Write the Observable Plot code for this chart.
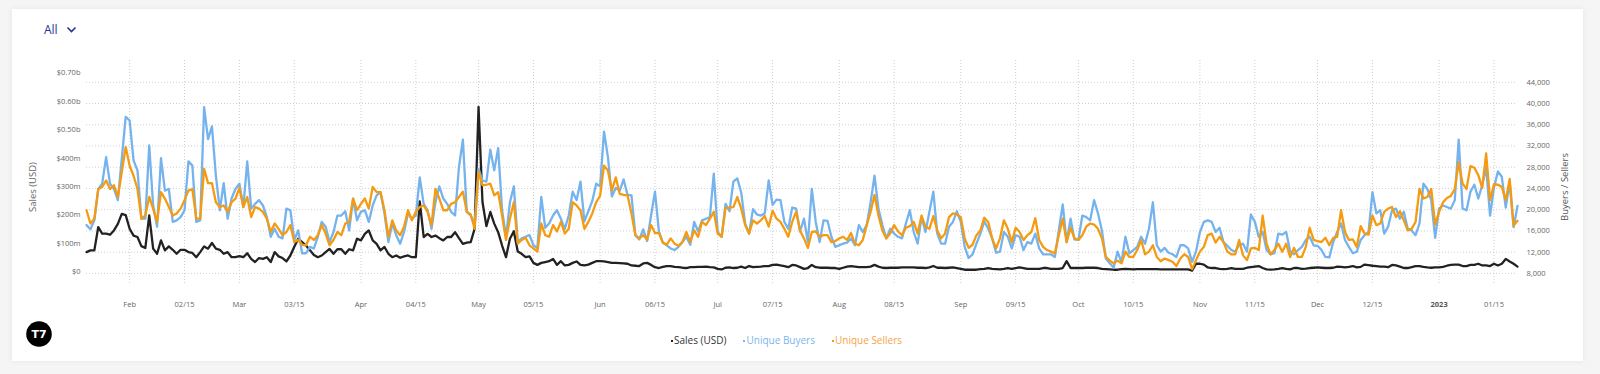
<!DOCTYPE html>
<html>
<head>
<meta charset="utf-8">
<script src="https://cdn.jsdelivr.net/npm/d3@7"></script>
<script src="https://cdn.jsdelivr.net/npm/@observablehq/plot@0.6"></script>
<style>
  html, body { margin:0; padding:0; width:1600px; height:374px; overflow:hidden; background:#f5f5f5; font-family:"Open Sans", sans-serif; }
  #card { position:absolute; left:12px; top:9px; width:1571px; height:352px; background:#fff; box-shadow:0 0 6px rgba(0,0,0,0.07); }
  #all { position:absolute; left:44px; top:22px; font-size:12px; color:#23358f; line-height:16px; }
  #all svg { position:absolute; left:22px; top:4px; }
  #chart { position:absolute; left:0; top:0; width:1600px; height:320px; }
  #chart svg { position:absolute; left:0; top:0; }
  .ytitle { position:absolute; transform:translate(-50%,-50%) rotate(-90deg); white-space:nowrap; font-size:9.5px; }
  #legend { position:absolute; left:671px; top:332px; font-size:10px; white-space:nowrap; line-height:16px; }
  #legend span.item { margin-right:17px; }
  #legend i { display:inline-block; width:2px; height:2px; vertical-align:middle; margin-right:1px; }
  #logo { position:absolute; left:25px; top:320px; }
</style>
</head>
<body>
<div id="card"></div>
<div id="all">All<svg width="12" height="8" viewBox="0 0 12 8"><polyline points="1.5,1.5 5.5,5.5 9.5,1.5" fill="none" stroke="#23358f" stroke-width="1.6"/></svg></div>
<div id="chart"></div>
<div class="ytitle" style="left:32px;top:187px;color:#666;">Sales (USD)</div>
<div class="ytitle" style="left:1564px;top:187px;color:#555;">Buyers / Sellers</div>
<div id="legend">
  <span class="item" style="color:#333"><i style="background:#222"></i>Sales (USD)</span><span class="item" style="color:#7cb5ec"><i style="background:#74b3ed"></i>Unique Buyers</span><span style="color:#f6a34a"><i style="background:#f49b12"></i>Unique Sellers</span>
</div>
<svg id="logo" width="28" height="28" viewBox="0 0 28 28"><circle cx="14" cy="14" r="12.8" fill="#000"/><text x="14" y="18" text-anchor="middle" font-family="DejaVu Sans, sans-serif" font-weight="bold" font-size="11" fill="#fff">T7</text></svg>

<script>
// ---- data (daily, starting 2022-01-21) ----
const startDay = "2022-01-21";

const uniqueBuyers = [
17100,16300,18000,23900,24900,29900,24900,23900,21800,29600,
37500,36800,29300,27400,18300,18300,32100,20800,16800,29700,
23600,23900,17700,18000,18600,19900,29100,28300,17700,18000,
39300,33300,35700,26400,19900,25000,18300,22100,23900,24900,
20500,29100,20200,21100,21800,20800,18600,14900,16400,14900,
14600,20200,19900,14300,16100,11800,11800,13000,12700,14900,
17700,16800,13900,15800,18900,18900,19700,16100,22100,18000,
19600,19900,17700,20800,22700,23300,19300,13900,17400,15200,
13600,15800,19300,18300,18900,26100,21100,19900,16400,21400,
24400,22100,21100,19600,18900,28000,33200,19600,18900,17100,
27700,25500,25300,31300,27400,31600,19900,14900,21400,24400,
13900,14600,14900,15200,13300,12800,22400,16600,17400,18900,
19900,18300,16400,18900,23400,21800,25300,17800,19700,21600,
24900,24400,34700,29900,22500,24100,23600,25700,22800,22700,
15200,14400,16300,14100,18900,23400,15900,13800,13300,12700,
12400,13000,13900,14900,13400,17700,15900,18000,18300,18600,
26800,15800,14900,21100,19700,25300,25900,23200,17400,15500,
20100,19100,18900,19300,25500,20900,21900,21800,17700,16400,
20400,20200,15900,18300,13900,23900,17700,13900,18000,17900,
14900,13000,13300,13600,13800,14600,13300,17100,15800,17100,
21400,26400,20200,17100,14600,16400,15500,14900,14600,17400,
19900,15800,13600,18600,15800,19600,23400,15500,13600,13600,
16800,17700,19700,17700,13000,10900,11600,13600,15500,17800,
16400,14600,11900,12100,15800,14900,12700,15200,14900,12400,
13900,13600,15500,12700,11600,11600,11600,11100,16100,21000,
13900,18300,14400,14300,18900,18600,18000,21800,19300,16100,
10800,9900,9100,12100,10100,14900,11800,12400,13000,14900,
13600,16400,21400,13300,12100,12800,11900,11600,11100,13300,
13300,12700,10200,12100,15800,17700,18000,17700,15800,16600,
13900,13200,12400,12100,13300,13600,12100,19100,17700,14900,
15800,12400,11600,11800,15500,15300,15800,12200,11600,12400,
13000,14300,14900,13300,13200,12400,11100,11000,13900,15800,
17400,14300,13000,11800,12100,14300,15200,15800,23300,19300,
19900,15500,16800,19900,20200,18300,19600,16400,16100,15200,
17400,24900,23900,21800,14700,20200,20800,20500,20200,21800,
33200,20200,19900,23400,24700,22100,24600,28000,18900,24200,
27200,26200,20400,25200,16700,20700
];

const uniqueSellers = [
19900,17400,18300,23900,24300,25500,23900,24600,22400,27100,
31800,28300,26400,23900,18300,18900,22400,20200,17700,23300,
22100,20500,18900,19300,20200,21800,23600,23900,18300,18300,
27700,25000,25000,21400,20500,20800,19600,21400,22100,24100,
20500,22400,18600,20500,20200,19600,18300,15800,17400,16400,
15200,15800,17100,13900,14300,13400,13300,14900,14300,15200,
17100,15500,13300,14300,15800,15200,17400,17700,22100,19900,
21100,22100,20200,24300,23300,23300,19900,14900,18000,16100,
15200,16800,19900,18000,19600,20500,20800,19600,17100,23900,
22100,19900,19900,21100,21400,22400,23400,19600,19100,16400,
27100,24600,24700,24900,22700,23300,18900,14300,18300,21400,
13600,14300,14700,13300,12700,12100,17400,15200,14900,17100,
15900,17700,15500,16400,21400,20800,19900,16400,17700,19300,
21400,22600,28300,27400,23600,26100,23000,22800,22700,19300,
15200,14600,15200,14400,17100,15600,15600,13800,13400,14600,
13600,13200,13900,15800,13900,16100,14900,17700,17100,18300,
19600,15500,14900,20300,20400,20500,22400,20200,17100,15500,
18000,17400,18000,18800,16800,19800,18300,17700,16400,14900,
17700,19600,16100,14600,12800,15800,15900,14900,15200,15200,
13900,14100,14600,14900,14300,15600,13600,13300,14300,17100,
19600,22800,18900,16100,14600,15500,17100,15900,15200,16600,
16900,17700,15500,18900,16800,16400,18800,16100,14600,15500,
18600,19300,19100,18600,14600,12800,13400,15200,16100,18500,
17700,14600,12700,14600,18000,16400,13900,16600,15800,14300,
15200,15800,18400,14300,13000,12400,12100,11800,15200,18300,
13900,16600,14600,14300,15200,16800,17400,17200,16400,14600,
11100,10400,9900,10400,9900,12100,11100,11100,12400,14300,
11600,12100,13300,11100,10300,10800,10500,10200,9400,10800,
11600,11100,8800,10500,12100,13000,15200,15500,13800,14900,
13900,12100,11600,11600,14300,11400,10500,12700,12800,12400,
18900,13600,11600,12400,13600,12100,13600,11100,12800,11100,
11100,13000,16600,14300,14100,13900,14700,13300,14700,14900,
19900,15800,14300,14400,13000,16900,15500,15300,18900,17100,
17400,19600,20200,20500,18600,19700,18000,16100,16400,17700,
23900,22100,22400,23900,17200,19600,21400,22200,22600,23900,
28900,24900,23900,28200,27900,26500,24100,30600,21800,24800,
24700,24300,21800,25800,17000,17900
];

// Sales in millions of USD
const salesUSDm = [
70,76,76,158,135,135,131,146,169,204,
200,152,128,123,91,84,199,82,64,111,
76,90,78,64,78,78,70,67,52,70,
90,82,102,82,78,64,70,52,52,56,
52,66,46,35,49,46,52,35,70,55,
49,37,58,89,117,105,93,76,60,52,
58,70,81,64,80,80,64,80,76,117,
111,134,146,111,99,76,88,64,52,58,
50,55,58,52,52,248,123,134,123,128,
119,111,123,123,140,119,99,103,105,152,
580,246,161,211,170,140,93,52,117,143,
72,64,52,55,32,25,32,35,38,46,
25,38,23,25,32,37,25,23,26,32,
38,38,37,35,32,32,31,30,29,23,
22,21,30,32,25,17,14,18,21,21,
18,17,15,14,17,17,18,18,19,17,
16,11,9,15,16,14,15,19,14,21,
17,18,19,21,21,25,26,23,21,17,
25,23,17,11,14,25,17,15,15,15,
14,14,11,15,19,21,19,17,17,17,
19,25,19,15,14,15,15,15,16,16,
16,16,15,15,14,16,21,15,15,14,
15,16,14,11,8,8,8,8,10,11,
14,11,10,9,11,14,11,14,16,14,
11,11,11,11,14,14,11,11,11,14,
38,14,14,14,14,15,15,15,14,11,
10,9,8,8,10,11,10,9,10,10,
10,10,10,10,9,9,9,9,9,9,
9,9,5,29,29,26,16,14,14,11,
10,11,14,11,11,11,15,17,19,21,
14,9,8,9,11,14,11,9,14,14,
11,12,14,15,16,15,14,14,15,19,
18,16,18,21,16,18,26,24,22,21,
19,19,17,25,23,19,14,14,17,21,
21,18,16,15,16,16,18,22,25,26,
26,21,21,25,25,29,23,23,21,29,
23,29,46,37,29,19
];

const xTickDates = ["2022-02-01","2022-02-15","2022-03-01","2022-03-15","2022-04-01","2022-04-15",
  "2022-05-01","2022-05-15","2022-06-01","2022-06-15","2022-07-01","2022-07-15","2022-08-01","2022-08-15",
  "2022-09-01","2022-09-15","2022-10-01","2022-10-15","2022-11-01","2022-11-15","2022-12-01","2022-12-15",
  "2023-01-01","2023-01-15"];
const xTickLabels = ["Feb","02/15","Mar","03/15","Apr","04/15","May","05/15","Jun","06/15","Jul","07/15",
  "Aug","08/15","Sep","09/15","Oct","10/15","Nov","11/15","Dec","12/15","2023","01/15"];
const boldTickLabel = "2023";

const countTicks = [8000,12000,16000,20000,24000,28000,32000,36000,40000,44000];
const countTickLabels = ["8,000","12,000","16,000","20,000","24,000","28,000","32,000","36,000","40,000","44,000"];

const salesTicks = [0,100,200,300,400,500,600,700];
const salesTickLabels = ["$0","$100m","$200m","$300m","$400m","$0.50b","$0.60b","$0.70b"];

// ---- build ----
const DAY = 864e5;
const t0 = new Date(startDay + "T00:00:00Z").getTime();
const rows = uniqueBuyers.map((b, i) => ({
  date: new Date(t0 + i * DAY), buyers: b, sellers: uniqueSellers[i], sales: salesUSDm[i]
}));
const tickDates = xTickDates.map(s => new Date(s + "T00:00:00Z"));
const labelByTime = new Map(tickDates.map((d, i) => [d.getTime(), xTickLabels[i]]));
const normalTicks = tickDates.filter(d => labelByTime.get(d.getTime()) !== boldTickLabel);
const boldTicks = tickDates.filter(d => labelByTime.get(d.getTime()) === boldTickLabel);
const countLabel = new Map(countTicks.map((v, i) => [v, countTickLabels[i]]));
const salesLabel = new Map(salesTicks.map((v, i) => [v, salesTickLabels[i]]));

const W = 1600, H = 320;
const common = {
  width: W, height: H,
  marginLeft: 86, marginRight: 83, marginTop: 60, marginBottom: 37,
  style: { background: "transparent", fontFamily: "'Open Sans', sans-serif", fontSize: "7.5px", color: "#666", overflow: "visible" },
  x: { type: "utc", domain: [rows[0].date, rows[rows.length - 1].date], axis: null }
};
const yCounts = { domain: [6100, 48100], axis: null };
const ySales = { domain: [-40.4, 743.2], axis: null };

const gridLayer = Plot.plot({
  ...common, y: yCounts,
  marks: [
    Plot.gridX(tickDates, { stroke: "#cfcfcf", strokeOpacity: 1, strokeDasharray: "1,2" }),
    Plot.gridY(countTicks, { stroke: "#cfcfcf", strokeOpacity: 1, strokeDasharray: "1,2" }),
    Plot.axisY(countTicks, { anchor: "right", tickSize: 0, tickPadding: 9, label: null, tickFormat: d => countLabel.get(d), fill: "#666" }),
    Plot.axisX(normalTicks, { anchor: "bottom", tickSize: 0, tickPadding: 18, label: null, tickFormat: d => labelByTime.get(d.getTime()), fill: "#666" }),
    Plot.axisX(boldTicks, { anchor: "bottom", tickSize: 0, tickPadding: 18, label: null, tickFormat: d => labelByTime.get(d.getTime()), fill: "#555", fontWeight: "bold" })
  ]
});

const salesLayer = Plot.plot({
  ...common, y: ySales,
  marks: [
    Plot.axisY(salesTicks, { anchor: "left", tickSize: 0, tickPadding: 6, label: null, tickFormat: d => salesLabel.get(d), fill: "#666" }),
    Plot.lineY(rows, { x: "date", y: "sales", stroke: "#222", strokeWidth: 2.3 })
  ]
});

const countLayer = Plot.plot({
  ...common, y: yCounts,
  marks: [
    Plot.lineY(rows, { x: "date", y: "buyers", stroke: "#74b3ed", strokeWidth: 2.3 }),
    Plot.lineY(rows, { x: "date", y: "sellers", stroke: "#f49b12", strokeWidth: 2.3 })
  ]
});

const chart = document.getElementById("chart");
chart.append(gridLayer, salesLayer, countLayer);
</script>
</body>
</html>
